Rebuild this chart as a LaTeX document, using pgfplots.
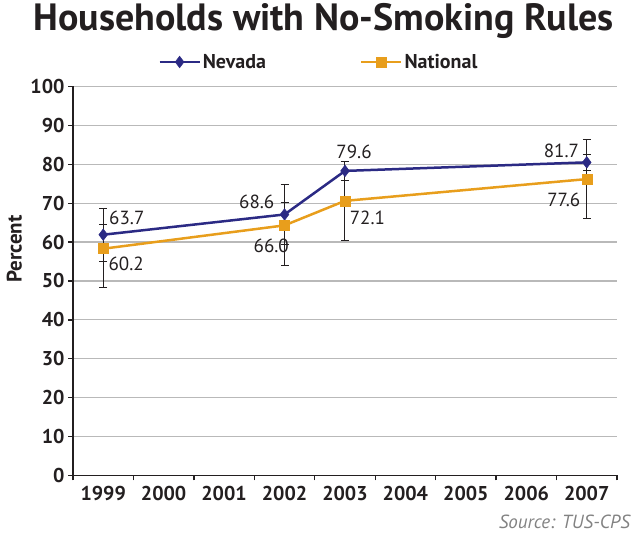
\documentclass[border=0pt]{standalone}
\usepackage{fontspec}
\setmainfont{PT Sans}
\usepackage{pgfplots}
\pgfplotsset{compat=1.18}
\definecolor{nev}{RGB}{43,42,132}
\definecolor{nat}{RGB}{232,158,28}
\definecolor{gridc}{RGB}{185,185,185}
\definecolor{txt}{RGB}{35,31,32}
\definecolor{src}{RGB}{130,130,130}

\begin{document}
\begin{tikzpicture}[x=1pt,y=1pt]
\path[use as bounding box] (-73,-59.5) rectangle (562,475.5);
\begin{axis}[
  scale only axis, width=544pt, height=389pt,
  xmin=1998.5, xmax=2007.5, ymin=0, ymax=100,
  axis lines=left,
  axis line style={-, line width=1.5pt, txt},
  xtick={1998.5,1999.5,...,2007.5},
  xticklabels={1999,2000,2001,2002,2003,2004,2005,2006,2007},
  x tick label as interval,
  ytick={0,10,...,100},
  ymajorgrids,
  grid style={gridc, line width=1.2pt},
  tick style={txt, line width=1.3pt},
  major tick length=5pt,
  tick align=outside,
  tick label style={font=\bfseries\fontsize{20}{20}\selectfont, text=txt},
  /pgf/number format/assume math mode=true,
  xticklabel style={yshift=-2pt},
  ylabel={Percent},
  ylabel style={at={(axis description cs:-0.108,0.582)}, anchor=center,
    font=\bfseries\fontsize{21}{21}\selectfont, text=txt},
  title={Households with No-Smoking Rules},
  title style={at={(axis description cs:0.461,1.153)}, anchor=center,
    font=\bfseries\fontsize{38}{38}\selectfont, text=txt},
  legend columns=2,
  legend style={at={(axis description cs:0.452,1.063)}, anchor=center,
    draw=none, fill=none, font=\bfseries\fontsize{20}{20}\selectfont,
    text=txt, /tikz/every even column/.append style={column sep=92pt}},
  legend image code/.code={\draw[mark repeat=2,mark phase=2,#1]
    plot coordinates {(0pt,0pt) (20pt,0pt) (40pt,0pt)};},
  clip=false,
  error bars/error bar style={txt, line width=1pt},
  error bars/error mark options={rotate=90, mark size=4pt, line width=1pt, txt},
]
\addplot[nev, line width=2.5pt, mark=diamond*, mark size=5.8pt,
  mark options={fill=nev, draw=nev, line width=0.5pt},
  error bars/.cd, y dir=both, y explicit]
  coordinates {
    (1999,61.9) += (0,6.8) -= (0,6.8)
    (2002,67.1) += (0,7.6) -= (0,7.6)
    (2003,78.3) += (0,2.5) -= (0,2.5)
    (2007,80.5) += (0,6.0) -= (0,2.0)
  };
\addlegendentry{Nevada}
\addplot[nat, line width=2.5pt, mark=square*, mark size=5pt,
  mark options={fill=nat, draw=nat, line width=0.5pt},
  error bars/.cd, y dir=both, y explicit]
  coordinates {
    (1999,58.3) += (0,6.3) -= (0,10.0)
    (2002,64.3) += (0,6.0) -= (0,10.3)
    (2003,70.6) += (0,5.2) -= (0,10.2)
    (2007,76.2) += (0,6.4) -= (0,10.2)
  };
\addlegendentry{National}
\begin{scope}[every node/.style={font=\fontsize{19}{19}\selectfont, text=txt, inner sep=0pt}]
\node at (axis cs:1999.39,66.3) {63.7};
\node at (axis cs:1999.38,54.4) {60.2};
\node at (axis cs:2001.54,70.4) {68.6};
\node at (axis cs:2001.78,59.1) {66.0};
\node at (axis cs:2003.15,83.2) {79.6};
\node at (axis cs:2003.37,66.2) {72.1};
\node at (axis cs:2006.58,83.5) {81.7};
\node at (axis cs:2006.62,70.8) {77.6};
\end{scope}
\node[anchor=east, font=\itshape\fontsize{19}{19}\selectfont, text=src, inner sep=0pt]
  at (axis description cs:1.024,-0.12) {Source: TUS-CPS};
\end{axis}
\end{tikzpicture}
\end{document}
